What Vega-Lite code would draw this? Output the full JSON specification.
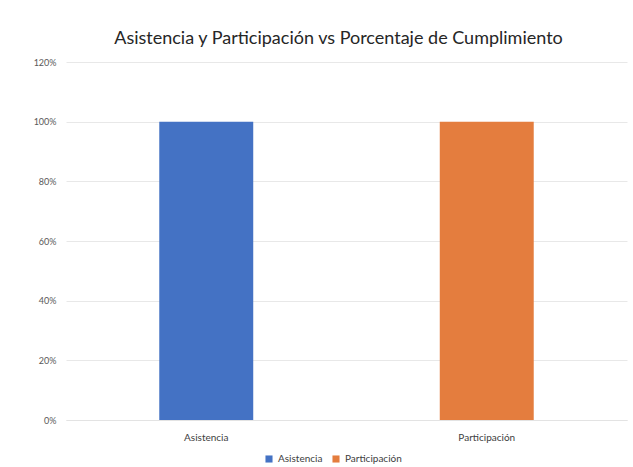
{
  "$schema": "https://vega.github.io/schema/vega-lite/v6.json",
  "autosize": {"type": "none"},
  "width": 561,
  "height": 358,
  "padding": {"left": 66, "top": 62, "right": 6, "bottom": 47},
  "background": "white",
  "title": {
    "text": "Asistencia y Participación vs Porcentaje de Cumplimiento",
    "font": "Lato",
    "fontSize": 18,
    "fontWeight": "normal",
    "color": "#262626",
    "offset": 10,
    "anchor": "middle",
    "dx": -8
  },
  "data": {
    "values": [
      {"categoria": "Asistencia", "porcentaje": 1.0},
      {"categoria": "Participación", "porcentaje": 1.0}
    ]
  },
  "mark": {"type": "bar"},
  "encoding": {
    "x": {
      "field": "categoria",
      "type": "nominal",
      "sort": null,
      "scale": {"paddingInner": 0.665, "paddingOuter": 0.3325},
      "axis": {
        "title": null,
        "labelAngle": 0,
        "labelFont": "Lato",
        "labelFontSize": 10,
        "labelColor": "#404040",
        "labelPadding": 12,
        "ticks": false,
        "domainColor": "#E3E3E3"
      }
    },
    "y": {
      "field": "porcentaje",
      "type": "quantitative",
      "scale": {"domain": [0, 1.2]},
      "axis": {
        "title": null,
        "format": ".0%",
        "values": [0, 0.2, 0.4, 0.6, 0.8, 1.0, 1.2],
        "labelFont": "Lato",
        "labelFontSize": 9,
        "labelColor": "#595959",
        "labelPadding": 10,
        "ticks": false,
        "domain": false,
        "gridColor": "#E8E8E8"
      }
    },
    "color": {
      "field": "categoria",
      "type": "nominal",
      "sort": null,
      "scale": {"range": ["#4472C4", "#E47D3E"]},
      "legend": {
        "title": null,
        "orient": "none",
        "legendX": 198,
        "legendY": 392,
        "direction": "horizontal",
        "symbolType": "square",
        "symbolSize": 50,
        "labelFont": "Lato",
        "labelFontSize": 10,
        "labelColor": "#404040",
        "columnPadding": 8
      }
    }
  },
  "config": {"view": {"stroke": null}}
}
